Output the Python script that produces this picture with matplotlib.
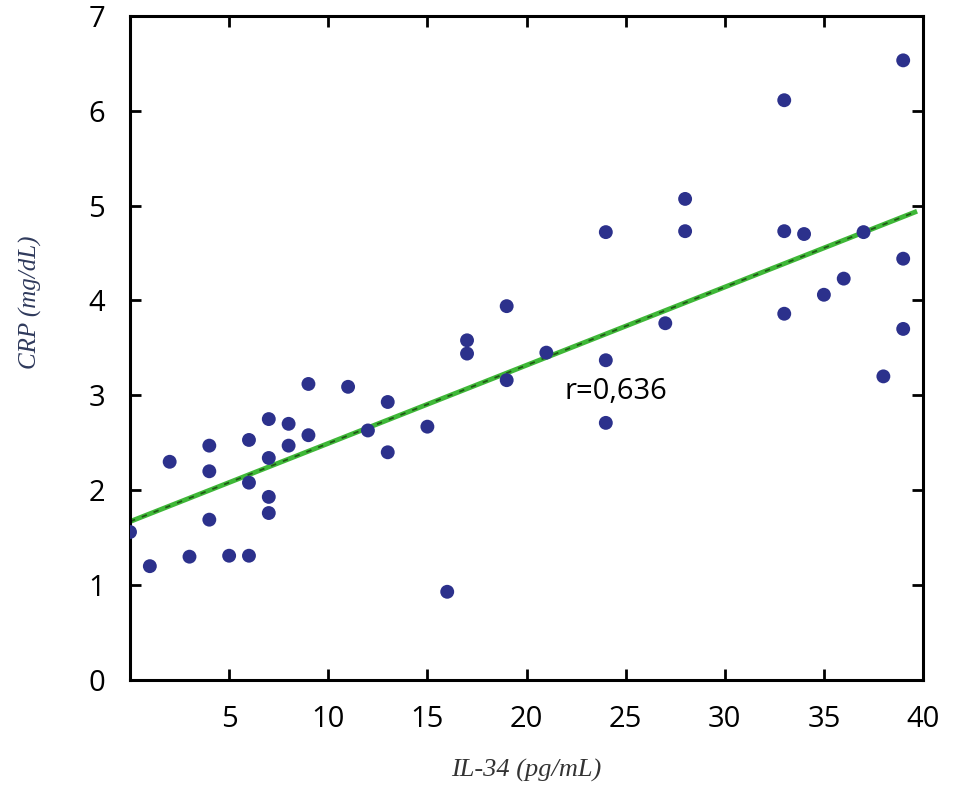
import matplotlib
matplotlib.use('Agg')
import matplotlib.pyplot as plt

# IL-34 vs CRP scatter data
il34 = [0, 1, 2, 3, 4, 4, 4, 5, 6, 6, 6, 7, 7, 7, 7, 8, 8, 9, 9, 11, 12, 13, 13,
        15, 16, 17, 17, 19, 19, 21, 24, 24, 24, 27, 28, 28, 33, 33, 33, 34, 35,
        36, 37, 38, 39, 39, 39]
crp = [1.56, 1.20, 2.30, 1.30, 2.47, 2.20, 1.69, 1.31, 2.53, 2.08, 1.31, 2.75,
       2.34, 1.93, 1.76, 2.70, 2.47, 3.12, 2.58, 3.09, 2.63, 2.93, 2.40, 2.67,
       0.93, 3.58, 3.44, 3.94, 3.16, 3.45, 4.72, 3.37, 2.71, 3.76, 5.07, 4.73,
       6.11, 4.73, 3.86, 4.70, 4.06, 4.23, 4.72, 3.20, 6.53, 4.44, 3.70]

# regression line end points
fit_x = [0, 39.7]
fit_y = [1.67, 4.94]

x_ticks = [5, 10, 15, 20, 25, 30, 35, 40]
y_ticks = [0, 1, 2, 3, 4, 5, 6, 7]
r_text = "r=0,636"

fig = plt.figure(figsize=(9.56, 7.88), dpi=100)
ax = fig.add_axes([0.136, 0.137, 0.8295, 0.843])

ax.plot(fit_x, fit_y, color='#3fb838', linewidth=3.5, solid_capstyle='butt', zorder=2)
ax.plot(fit_x, fit_y, color='#1f5a16', linewidth=1.3, linestyle=(0, (3, 4)), zorder=2)
ax.scatter(il34, crp, s=100, color='#2c318c', edgecolors='none', zorder=3)

ax.text(21.9, 3.04, r_text, fontsize=21, family='Open Sans', va='center', ha='left')

ax.set_xlim(0, 40)
ax.set_ylim(0, 7)
ax.set_xticks(x_ticks)
ax.set_yticks(y_ticks)
ax.tick_params(direction='in', length=8, width=2, top=True, right=True,
               labelsize=21, pad=18)
for lab in ax.get_xticklabels() + ax.get_yticklabels():
    lab.set_family('Open Sans')

for sp in ax.spines.values():
    sp.set_linewidth(2.2)

ax.set_xlabel('IL-34 (pg/mL)', fontsize=19, family='Liberation Serif',
              style='italic', color='#333333', labelpad=18)
ax.set_ylabel('CRP (mg/dL)', fontsize=18, family='Liberation Serif',
              style='italic', color='#2f3a5c')
ax.yaxis.set_label_coords(-0.111, 0.568)

fig.savefig('out.png', dpi=100)
